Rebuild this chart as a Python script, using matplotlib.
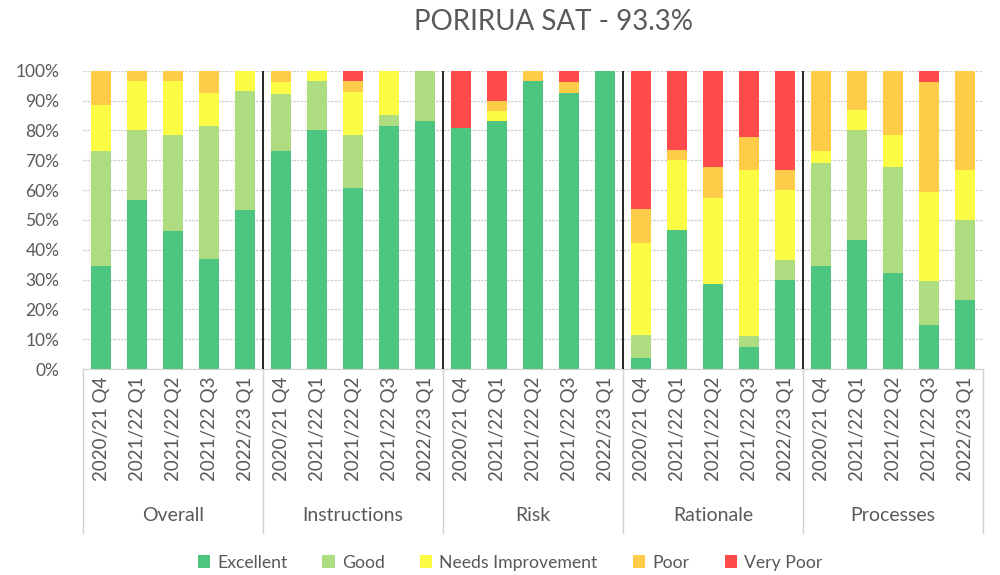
import matplotlib
matplotlib.use("Agg")
import matplotlib.pyplot as plt
from matplotlib.patches import Patch
import numpy as np

plt.rcParams["font.family"] = ["Lato", "DejaVu Sans"]

# Data (percent of responses per rating)
groups = ["Overall", "Instructions", "Risk", "Rationale", "Processes"]
periods = ["2020/21 Q4", "2021/22 Q1", "2021/22 Q2", "2021/22 Q3", "2022/23 Q1"]
ratings = ["Excellent", "Good", "Needs Improvement", "Poor", "Very Poor"]

excellent = [34.6, 56.7, 46.4, 37.0, 53.3,
             73.1, 80.0, 60.7, 81.5, 83.3,
             80.8, 83.3, 96.4, 92.6, 100.0,
             3.8, 46.7, 28.6, 7.4, 30.0,
             34.6, 43.3, 32.1, 14.8, 23.3]
good = [38.5, 23.3, 32.1, 44.4, 40.0,
        19.2, 16.7, 17.9, 3.7, 16.7,
        0, 0, 0, 0, 0,
        7.7, 0, 0, 3.7, 6.7,
        34.6, 36.7, 35.7, 14.8, 26.7]
needs_improvement = [15.4, 16.7, 17.9, 11.1, 6.7,
                     3.8, 3.3, 14.3, 14.8, 0,
                     0, 3.3, 0, 0, 0,
                     30.8, 23.3, 28.6, 55.6, 23.3,
                     3.8, 6.7, 10.7, 29.6, 16.7]
poor = [11.5, 3.3, 3.6, 7.5, 0,
        3.9, 0, 3.6, 0, 0,
        0, 3.4, 3.6, 3.7, 0,
        11.5, 3.3, 10.7, 11.1, 6.7,
        27.0, 13.3, 21.5, 37.1, 33.3]
very_poor = [0, 0, 0, 0, 0,
             0, 0, 3.5, 0, 0,
             19.2, 10.0, 0, 3.7, 0,
             46.2, 26.7, 32.1, 22.2, 33.3,
             0, 0, 0, 3.7, 0]

colors = ["#4DC47F", "#AEDC80", "#FCFC45", "#FFCC4A", "#FF4B4B"]
text_color = "#595959"

series = [excellent, good, needs_improvement, poor, very_poor]
n = len(excellent)
x = np.arange(n) + 0.5

fig = plt.figure(figsize=(10, 5.75), dpi=100)
ax = fig.add_axes([0.083, 0.358, 0.9, 0.519])

bottom = np.zeros(n)
for vals, col, name in zip(series, colors, ratings):
    vals = np.array(vals)
    ax.bar(x, vals, 0.56, bottom=bottom, color=col, label=name, zorder=2)
    bottom += vals

ax.set_xlim(0, n)
ax.set_ylim(0, 100)
ax.set_yticks(np.arange(0, 101, 10))
ax.set_yticklabels([f"{v}%" for v in range(0, 101, 10)], fontsize=12.5, color=text_color)
ax.yaxis.grid(True, color="#cfcfcf", linestyle=(0, (2, 1)), linewidth=0.9, zorder=0)
ax.set_axisbelow(True)
for s in ["top", "right", "left"]:
    ax.spines[s].set_visible(False)
ax.spines["bottom"].set_color("#d0d0d0")
ax.tick_params(axis="y", length=0, pad=17)

labels = periods * len(groups)
ax.set_xticks(x)
ax.set_xticklabels(labels, rotation=90, fontsize=13.5, color=text_color)
ax.tick_params(axis="x", length=0, pad=5)

# group separators inside the plot
for k in range(1, len(groups)):
    ax.plot([5 * k, 5 * k], [0, 100], color="black", linewidth=1.2, zorder=3)

# category boxes below the axis
for k in range(len(groups) + 1):
    ax.plot([5 * k, 5 * k], [0, -0.55], color="#d0d0d0", linewidth=1,
            transform=ax.get_xaxis_transform(), clip_on=False)
for k, g in enumerate(groups):
    ax.text(5 * k + 2.5, -0.49, g, transform=ax.get_xaxis_transform(),
            ha="center", va="center", fontsize=14, color=text_color)

fig.suptitle("PORIRUA SAT - 93.3%", x=0.553, y=0.985, va="top",
             fontsize=20, color=text_color)

handles = [Patch(facecolor=c, label=r) for c, r in zip(colors, ratings)]
fig.legend(handles=handles, loc="lower center", bbox_to_anchor=(0.51, -0.02),
           ncol=5, frameon=False, fontsize=12.7, handlelength=0.7, handleheight=0.7,
           columnspacing=2.0, handletextpad=0.4, labelcolor=text_color)

fig.savefig("out.png", dpi=100)
